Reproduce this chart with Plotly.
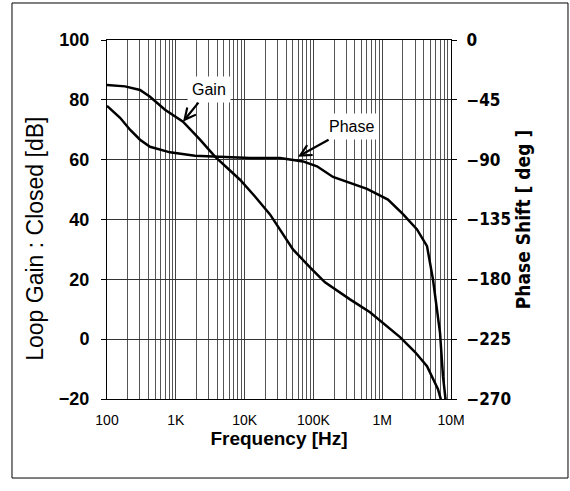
import plotly.graph_objects as go

# ---- data ----
gain_freq = [100, 183, 302, 422, 697, 1273, 2249, 3715, 8577, 14160, 23400,
             50500, 89300, 147500, 340400, 665000, 1.815e6, 3.0e6, 4.48e6,
             6.47e6, 7.65e6]
gain_db = [85, 84.5, 83.3, 81, 76.7, 72.7, 66.7, 61, 53.3, 47.7, 41.7,
           30, 24, 19, 13.3, 9, 0.7, -4.3, -9, -16.7, -22.7]

phase_freq = [100, 155, 216, 302, 422, 824, 1901, 3971, 11970, 32700, 70600,
              112800, 192800, 601000, 1.213e6, 2.005e6, 3.206e6, 4.48e6,
              5.47e6, 6.92e6, 7.65e6, 8.75e6]
phase_deg = [-49.5, -58.5, -67.5, -75, -80.3, -84.5, -87, -87.5, -88.7, -88.7,
             -91.3, -95, -103, -112, -120, -131, -142.5, -155, -180, -220,
             -253, -280]

x_tick_vals = [1e2, 1e3, 1e4, 1e5, 1e6, 1e7]
x_tick_text = ["100", "1K", "10K", "100K", "1M", "10M"]
gain_ticks = [-20, 0, 20, 40, 60, 80, 100]
phase_ticks = [-270, -225, -180, -135, -90, -45, 0]

SANS = "Liberation Sans, Arial, sans-serif"
NARROW = "DejaVu Sans Condensed, DejaVu Sans, sans-serif"

fig = go.Figure()
fig.add_trace(go.Scatter(x=gain_freq, y=gain_db, mode="lines", name="Gain",
                         line=dict(color="black", width=2.5), yaxis="y",
                         showlegend=False, hoverinfo="skip"))
fig.add_trace(go.Scatter(x=phase_freq, y=phase_deg, mode="lines", name="Phase",
                         line=dict(color="black", width=2.5), yaxis="y2",
                         showlegend=False, hoverinfo="skip"))

fig.update_layout(
    width=570, height=491,
    margin=dict(l=107, r=119, t=40, b=92, autoexpand=False),
    paper_bgcolor="white", plot_bgcolor="white",
    xaxis=dict(
        type="log", range=[2, 7],
        tickmode="array", tickvals=x_tick_vals, ticktext=x_tick_text,
        showgrid=True, gridcolor="#444", gridwidth=1,
        minor=dict(dtick="D1", showgrid=True, gridcolor="#555", gridwidth=1, ticks=""),
        showline=True, linecolor="black", linewidth=1, mirror=True,
        ticks="", ticklabelstandoff=8,
        tickfont=dict(family=SANS, size=14, color="black"),
        title=dict(text="Frequency [Hz]", standoff=4,
                   font=dict(family=SANS, size=19, color="black", weight="bold")),
        zeroline=False,
    ),
    yaxis=dict(
        range=[-20, 100], tickmode="array", tickvals=gain_ticks,
        showgrid=True, gridcolor="#333", gridwidth=1,
        showline=True, linecolor="black", linewidth=1,
        ticks="outside", ticklen=5, tickcolor="black", ticklabelstandoff=8,
        tickfont=dict(family=SANS, size=18, color="black", weight="bold"),
        title=dict(text="Loop Gain : Closed [dB]" + "\u00a0" * 6 + "\u200b", standoff=8,
                   font=dict(family=SANS, size=23, color="black")),
        zeroline=False,
    ),
    yaxis2=dict(
        overlaying="y", side="right", range=[-270, 0],
        tickmode="array", tickvals=phase_ticks,
        showgrid=False, showline=True, linecolor="black", linewidth=1,
        ticks="outside", ticklen=5, tickcolor="black", ticklabelstandoff=6,
        tickfont=dict(family=NARROW, size=17, color="black", weight="bold"),
        title=dict(text="Phase Shift [ deg ]", standoff=6,
                   font=dict(family=NARROW, size=19, color="black", weight="bold")),
        zeroline=False,
    ),
    annotations=[
        dict(x=3.1047, y=72.7, xref="x", yref="y", text="Gain",
             showarrow=True, arrowhead=5, arrowsize=1, arrowwidth=2.2,
             arrowcolor="black", ax=26, ay=-32, bgcolor="white", borderpad=4,
             font=dict(family=SANS, size=16, color="black")),
        dict(x=4.776, y=-87.75, xref="x", yref="y2", text="Phase",
             showarrow=True, arrowhead=5, arrowsize=1, arrowwidth=2.2,
             arrowcolor="black", ax=54, ay=-30, bgcolor="white", borderpad=4,
             font=dict(family=SANS, size=16, color="black")),
    ],
    shapes=[
        dict(type="rect", xref="paper", yref="paper",
             x0=-0.2762, x1=1.3401, y0=-0.2201, y1=1.1031,
             line=dict(color="black", width=1), layer="above"),
    ],
)

fig.write_html("out.html", config={"displayModeBar": False},
               post_script="document.body.style.margin='0';document.body.style.overflow='hidden';")
